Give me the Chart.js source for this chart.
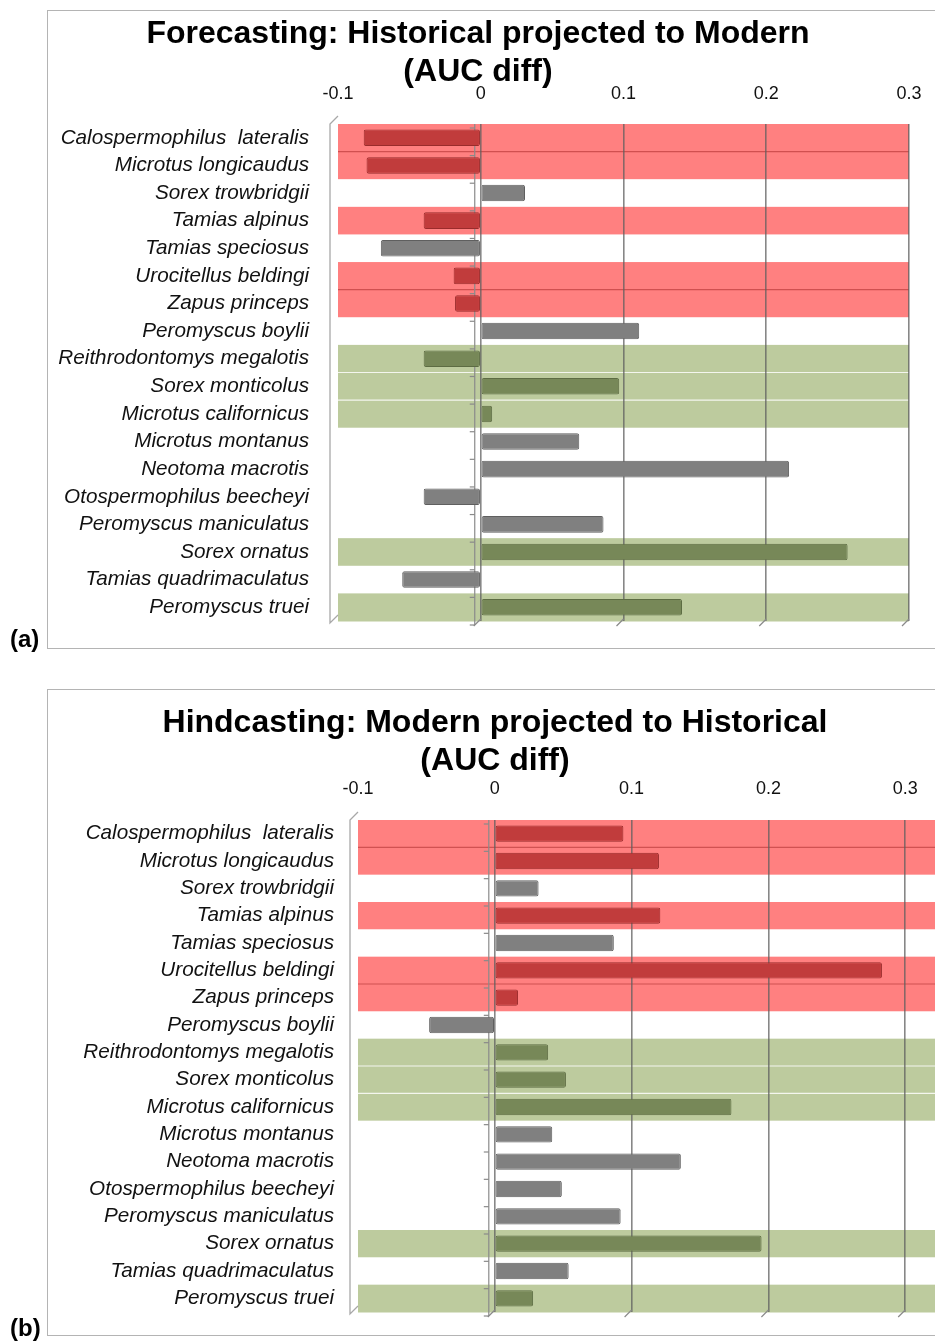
<!DOCTYPE html>
<html>
<head>
<meta charset="utf-8">
<script src="https://cdn.jsdelivr.net/npm/chart.js@4.4.1/dist/chart.umd.min.js"></script>
<style>
  html, body { margin:0; padding:0; background:#fff; width:935px; height:1343px; overflow:hidden; position:relative; }
  .box { position:absolute; left:47px; border:1.5px solid #b4b4b4; width:1000px; box-sizing:border-box; }
  .wrap { position:absolute; }
  .panel { position:absolute; left:8px; font-family:'Liberation Sans', Arial, sans-serif; font-weight:bold; font-size:24px; color:#000; background:#fff; padding:0 2px; line-height:26px; }
</style>
</head>
<body>
<div class="box" style="top:10px;height:639px;"></div>
<div class="box" style="top:689px;height:647px;"></div>
<div class="wrap" style="left:33px;top:10px;width:890px;height:638px;"><canvas id="c1" width="890" height="638"></canvas></div>
<div class="wrap" style="left:-77px;top:689px;width:1144px;height:646px;"><canvas id="c2" width="1144" height="646"></canvas></div>
<div class="panel" style="top:626px;">(a)</div>
<div class="panel" style="top:1315px;">(b)</div>
<script>
// ---------- data ----------
const categories = [
  'Calospermophilus  lateralis', 'Microtus longicaudus', 'Sorex trowbridgii', 'Tamias alpinus',
  'Tamias speciosus', 'Urocitellus beldingi', 'Zapus princeps', 'Peromyscus boylii',
  'Reithrodontomys megalotis', 'Sorex monticolus', 'Microtus californicus', 'Microtus montanus',
  'Neotoma macrotis', 'Otospermophilus beecheyi', 'Peromyscus maniculatus', 'Sorex ornatus',
  'Tamias quadrimaculatus', 'Peromyscus truei'
];
const groups = ['red','red','none','red','none','red','red','none',
                'green','green','green','none','none','none','none','green','none','green'];
const forecastValues = [-0.082, -0.080, 0.031, -0.040, -0.070, -0.019, -0.018, 0.111,
                        -0.040, 0.097, 0.008, 0.069, 0.216, -0.040, 0.086, 0.257, -0.055, 0.141];
const hindcastValues = [0.094, 0.120, 0.032, 0.121, 0.087, 0.283, 0.017, -0.048,
                        0.039, 0.052, 0.173, 0.042, 0.136, 0.049, 0.092, 0.195, 0.054, 0.028];
const forecastTicks = [-0.1, 0, 0.1, 0.2, 0.3];
const forecastTickLabels = ['-0.1', '0', '0.1', '0.2', '0.3'];
const hindcastTicks = [-0.1, 0, 0.1, 0.2, 0.3, 0.4];
const hindcastTickLabels = ['-0.1', '0', '0.1', '0.2', '0.3', '0.4'];
const forecastTitle = ['Forecasting: Historical projected to Modern', '(AUC diff)'];
const hindcastTitle = ['Hindcasting: Modern projected to Historical', '(AUC diff)'];

// ---------- styles ----------
const bandColors = { red:'#ff8080', green:'#bdcb9e', none:'#ffffff' };
const sepColors  = { red:'rgba(170,40,40,0.55)', green:'#f4f6ee', none:null };
const barColors  = { red:'#c13c3c', green:'#778858', none:'#808080' };
const barBorders = { red:'#9a2c2c', green:'#5d6c43', none:'#5f5f5f' };
const FONT = "'Liberation Sans', Arial, sans-serif";

const bandsPlugin = {
  id:'bands',
  beforeDraw(chart) {
    const { ctx, chartArea } = chart;
    const ys = chart.scales.y;
    const n = chart.data.labels.length;
    const row = (chartArea.bottom - chartArea.top) / n;
    ctx.save();
    for (let i = 0; i < n; i++) {
      const c = ys.getPixelForValue(i);
      ctx.fillStyle = bandColors[groups[i]];
      ctx.fillRect(chartArea.left, c - row/2, chartArea.right - chartArea.left, row + 0.5);
    }
    for (let i = 1; i < n; i++) {
      if (groups[i] === groups[i-1] && sepColors[groups[i]]) {
        const yb = (ys.getPixelForValue(i) + ys.getPixelForValue(i-1)) / 2;
        ctx.strokeStyle = sepColors[groups[i]];
        ctx.lineWidth = 1.2;
        ctx.beginPath(); ctx.moveTo(chartArea.left, yb); ctx.lineTo(chartArea.right, yb); ctx.stroke();
      }
    }
    // side wall
    const wl = chartArea.left - 8;
    ctx.strokeStyle = '#a8a8a8';
    ctx.lineWidth = 1.3;
    ctx.beginPath();
    ctx.moveTo(chartArea.left, chartArea.top - 8);
    ctx.lineTo(wl, chartArea.top);
    ctx.lineTo(wl, chartArea.bottom + 2);
    ctx.lineTo(chartArea.left, chartArea.bottom - 6);
    ctx.stroke();
    ctx.restore();
  },
  beforeDatasetsDraw(chart) {
    const { ctx, chartArea } = chart;
    const xs = chart.scales.x, ys = chart.scales.y;
    const n = chart.data.labels.length;
    const x0 = xs.getPixelForValue(0) - 6;
    ctx.save();
    ctx.strokeStyle = '#8a8a8a';
    ctx.lineWidth = 1.2;
    ctx.beginPath(); ctx.moveTo(x0, chartArea.top); ctx.lineTo(x0, chartArea.bottom + 4); ctx.stroke();
    for (let i = 0; i <= n; i++) {
      const yb = i === 0 ? chartArea.top : (i === n ? chartArea.bottom : (ys.getPixelForValue(i) + ys.getPixelForValue(i-1)) / 2);
      ctx.beginPath(); ctx.moveTo(x0 - 5, yb + 4); ctx.lineTo(x0, yb + 4); ctx.stroke();
    }
    // floor ticks
    xs.ticks.forEach(t => {
      if (t.value <= -0.1) return;
      const x = xs.getPixelForValue(t.value);
      ctx.beginPath(); ctx.moveTo(x, chartArea.bottom - 2); ctx.lineTo(x - 7, chartArea.bottom + 5); ctx.stroke();
    });
    ctx.restore();
  }
};

function makeChart(id, values, ticks, tickLabels, title, lay) {
  const colors = groups.map(g => barColors[g]);
  const borders = groups.map(g => barBorders[g]);
  return new Chart(document.getElementById(id), {
    type:'bar',
    data:{ labels:categories, datasets:[{ data:values, backgroundColor:colors, borderColor:borders,
      borderWidth:1, borderRadius:2, borderSkipped:false, barPercentage:0.6, categoryPercentage:1 }] },
    options:{
      indexAxis:'y', responsive:false, animation:false,
      layout:{ padding:{ left:lay.padRight, right:lay.padRight, top:0, bottom:lay.padBottom } },
      plugins:{
        legend:{ display:false }, tooltip:{ enabled:false },
        title:{ display:true, text:title, color:'#000',
          font:{ family:FONT, size:32, weight:'bold', lineHeight:38/32 },
          padding:{ top:lay.titleTop, bottom:-8 } }
      },
      scales:{
        x:{ position:'top', min:ticks[0], max:ticks[ticks.length-1],
          afterBuildTicks:(s) => { s.ticks = ticks.map(v => ({ value:v })); },
          afterFit:(s) => { s.height = lay.xHeight; },
          ticks:{ callback:(v) => { const k = ticks.indexOf(v); return k >= 0 ? tickLabels[k] : ''; },
            font:{ family:FONT, size:18 }, color:'#111', padding:0, maxRotation:0 },
          grid:{ drawTicks:true, tickLength:lay.xPad, tickColor:'rgba(0,0,0,0)', lineWidth:1.6,
            color:(c) => (c.tick && c.tick.value === ticks[0]) ? 'rgba(0,0,0,0)' : 'rgba(95,95,95,0.75)' },
          border:{ display:false }
        },
        y:{ afterFit:(s) => { s.width = lay.yWidth - lay.padRight; },
          ticks:{ font:{ family:FONT, size:20.7, style:'italic' }, color:'#111', padding:0, autoSkip:false },
          grid:{ display:true, drawOnChartArea:false, drawTicks:true, tickLength:lay.yPad,
                 color:'rgba(0,0,0,0)', tickColor:'rgba(0,0,0,0)' },
          border:{ display:false }
        }
      }
    },
    plugins:[bandsPlugin]
  });
}

makeChart('c1', forecastValues, forecastTicks, forecastTickLabels, forecastTitle,
  { padRight:14, padBottom:27, titleTop:5, xHeight:114 - (5 + 76 - 8), xPad:19, yWidth:305, yPad:29 });
makeChart('c2', hindcastValues, hindcastTicks, hindcastTickLabels, hindcastTitle,
  { padRight:25, padBottom:23, titleTop:15, xHeight:131 - (15 + 76 - 8), xPad:20, yWidth:435, yPad:24 });
</script>
</body>
</html>
